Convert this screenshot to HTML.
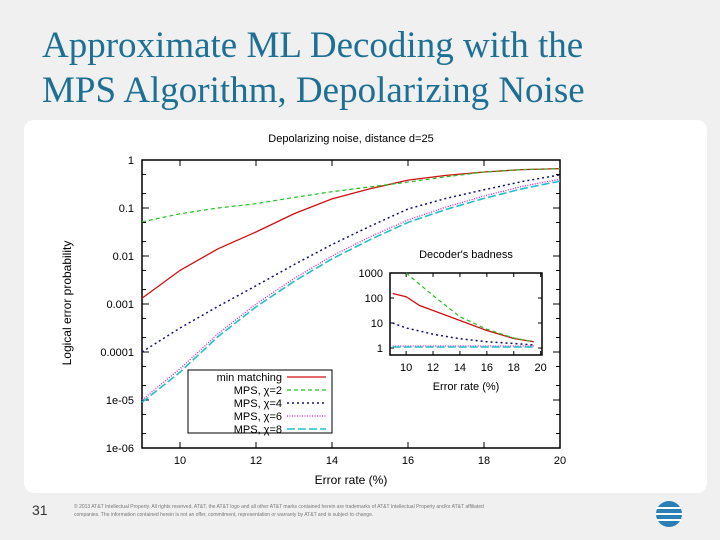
<!DOCTYPE html>
<html><head><meta charset="utf-8"><style>
body{margin:0;width:720px;height:540px;background:#f0f0f0;overflow:hidden;font-family:"Liberation Sans",sans-serif;}
#title{position:absolute;left:42px;top:23px;font-family:"Liberation Serif",serif;font-size:37px;line-height:45px;color:#1d6f93;}
#card{position:absolute;left:24px;top:120px;width:683px;height:373px;background:#fff;border-radius:10px;}
#pnum{position:absolute;left:32px;top:502px;font-size:14px;color:#333;}
#foot{position:absolute;left:74px;top:503px;font-size:5px;line-height:8px;color:#777;width:420px;}
svg{position:absolute;left:0;top:0;}
</style></head><body>
<div id="title">Approximate ML Decoding with the<br>MPS Algorithm, Depolarizing Noise</div>
<div id="card"></div>
<div id="pnum">31</div>
<div id="foot">© 2013 AT&amp;T Intellectual Property. All rights reserved. AT&amp;T, the AT&amp;T logo and all other AT&amp;T marks contained herein are trademarks of AT&amp;T Intellectual Property and/or AT&amp;T affiliated companies. The information contained herein is not an offer, commitment, representation or warranty by AT&amp;T and is subject to change.</div>
<svg id="chart" width="720" height="540"></svg>
<svg width="720" height="540">
<circle cx="669" cy="514" r="13" fill="#2a7fb5"/>
<g stroke="#fff" stroke-width="2"><line x1="656" y1="508" x2="682" y2="508"/><line x1="656" y1="514" x2="682" y2="514"/><line x1="657" y1="520" x2="681" y2="520"/></g>
</svg>
<script>
const xs=[9,10,11,12,13,14,15,16,17,18,19,20];
const minMatching=[-2.88,-2.3,-1.85,-1.5,-1.12,-0.81,-0.6,-0.42,-0.32,-0.25,-0.2,-0.18];
const mps2=[-1.29,-1.12,-1.0,-0.91,-0.78,-0.66,-0.56,-0.46,-0.35,-0.25,-0.2,-0.18];
const mps4=[-4.0,-3.5,-3.05,-2.62,-2.18,-1.76,-1.38,-1.02,-0.8,-0.62,-0.45,-0.31];
const mps6=[-5.0,-4.35,-3.62,-3.0,-2.47,-2.0,-1.6,-1.25,-0.98,-0.75,-0.55,-0.4];
const mps8=[-5.05,-4.42,-3.68,-3.06,-2.53,-2.06,-1.66,-1.3,-1.03,-0.8,-0.6,-0.44];
const xTicks=[10,12,14,16,18,20];
const yTicks=[0,-1,-2,-3,-4,-5,-6];
const yTickLabels=["1","0.1","0.01","0.001","0.0001","1e-05","1e-06"];
const insX=[9,10,11,12,14,16,18,19.5];
const insRed=[2.18,2.05,1.7,1.5,1.1,0.7,0.38,0.25];
const insGreen=[null,3.0,2.55,2.1,1.25,0.75,0.4,0.25];
const insBlue=[1.0,0.8,0.68,0.55,0.37,0.25,0.18,0.12];
const insMag=[0.08,0.08,0.08,0.08,0.08,0.08,0.08,0.08];
const insCyan=[0.04,0.04,0.04,0.04,0.04,0.04,0.04,0.04];
const insXTicks=[10,12,14,16,18,20];
const insYTicks=[3,2,1,0];
const insYLabels=["1000","100","10","1"];

const svg=document.getElementById('chart');
const NS='http://www.w3.org/2000/svg';
function mk(t,a,txt){const e=document.createElementNS(NS,t);for(const k in a)e.setAttribute(k,a[k]);if(txt!==undefined)e.textContent=txt;svg.appendChild(e);return e;}
const L=142,R=560,T=160,B=448;
const X=v=>L+(v-9)/(11)*(R-L);
const Y=v=>T+(0-v)/6*(B-T);
const iL=390,iR=542,iT=273,iB=355;
const IX=v=>iL+(v-8.8)/(20.1-8.8)*(iR-iL);
const IY=v=>iT+(3-v)*25;
const styles=[
 {c:'#d01010',d:'',w:1.3,n:'min matching'},
 {c:'#22c022',d:'4,3',w:1.2,n:'MPS, χ=2'},
 {c:'#10107a',d:'2,3',w:1.5,n:'MPS, χ=4'},
 {c:'#d020d0',d:'1,1.5',w:1.3,n:'MPS, χ=6'},
 {c:'#20c0d0',d:'8,3',w:1.6,n:'MPS, χ=8'}];
const names=['min-matching','mps-chi2','mps-chi4','mps-chi6','mps-chi8'];
let t=mk('text',{x:351,y:142,'font-size':11,'text-anchor':'middle'},'Depolarizing noise, distance d=25');


let ft=mk('rect',{x:L,y:T,width:R-L,height:B-T,fill:'none',stroke:'#000','stroke-width':1.5});


xTicks.forEach(v=>{
 mk('line',{x1:X(v),x2:X(v),y1:B,y2:B-6,stroke:'#000'});
 mk('line',{x1:X(v),x2:X(v),y1:T,y2:T+6,stroke:'#000'});
 const e=mk('text',{x:X(v),y:B+16,'font-size':11,'text-anchor':'middle'},v);
 
 
});
yTicks.forEach((v,i)=>{
 mk('line',{x1:L,x2:L+7,y1:Y(v),y2:Y(v),stroke:'#000'});
 mk('line',{x1:R,x2:R-7,y1:Y(v),y2:Y(v),stroke:'#000'});
 if(v>-6)[2,5].forEach(m=>{const yy=Y(v-1+Math.log10(m));mk('line',{x1:L,x2:L+4,y1:yy,y2:yy,stroke:'#000'});mk('line',{x1:R,x2:R-4,y1:yy,y2:yy,stroke:'#000'});});
 const e=mk('text',{x:L-8,y:Y(v)+4,'font-size':11,'text-anchor':'end'},yTickLabels[i]);
 
 
});
let xt=mk('text',{x:351,y:484,'font-size':12,'text-anchor':'middle'},'Error rate (%)');


let yt=mk('text',{x:71,y:303,'font-size':12,'text-anchor':'middle',transform:'rotate(-90 71 303)'},'Logical error probability');


[minMatching,mps2,mps4,mps6,mps8].forEach((s,k)=>{
 const p=s.map((v,i)=>X(xs[i])+','+Y(v)).join(' ');
 const e=mk('polyline',{points:p,fill:'none',stroke:styles[k].c,'stroke-width':styles[k].w,'stroke-dasharray':styles[k].d});
 
 
});
let lb=mk('rect',{x:188,y:370,width:144,height:63,fill:'#fff',stroke:'#000','stroke-width':1});


styles.forEach((s,k)=>{
 const yy=377+k*13;
 const e=mk('text',{x:282,y:yy+4,'font-size':11,'text-anchor':'end'},s.n);
 
 
 mk('line',{x1:287,x2:326,y1:yy,y2:yy,stroke:s.c,'stroke-width':s.w,'stroke-dasharray':s.d});
});
let it=mk('text',{x:466,y:258,'font-size':11,'text-anchor':'middle'},"Decoder's badness");


let ib=mk('rect',{x:iL,y:iT,width:iR-iL,height:iB-iT,fill:'#fff',stroke:'#000','stroke-width':1.5});


insXTicks.forEach(v=>{
 mk('line',{x1:IX(v),x2:IX(v),y1:iB,y2:iB-4,stroke:'#000'});
 mk('line',{x1:IX(v),x2:IX(v),y1:iT,y2:iT+4,stroke:'#000'});
 const e=mk('text',{x:IX(v),y:iB+16,'font-size':11,'text-anchor':'middle'},v);
 
 
});
insYTicks.forEach((v,i)=>{
 mk('line',{x1:iL,x2:iL+4,y1:IY(v),y2:IY(v),stroke:'#000'});
 mk('line',{x1:iR,x2:iR-4,y1:IY(v),y2:IY(v),stroke:'#000'});
 const e=mk('text',{x:iL-7,y:IY(v)+4,'font-size':11,'text-anchor':'end'},insYLabels[i]);
 
 
});
let ixt=mk('text',{x:466,y:390,'font-size':11,'text-anchor':'middle'},'Error rate (%)');


[insRed,insGreen,insBlue,insMag,insCyan].forEach((s,k)=>{
 const p=s.map((v,i)=>v===null?null:IX(insX[i])+','+IY(v)).filter(q=>q).join(' ');
 const e=mk('polyline',{points:p,fill:'none',stroke:styles[k].c,'stroke-width':styles[k].w,'stroke-dasharray':styles[k].d});
 
 
});
</script>
</body></html>
